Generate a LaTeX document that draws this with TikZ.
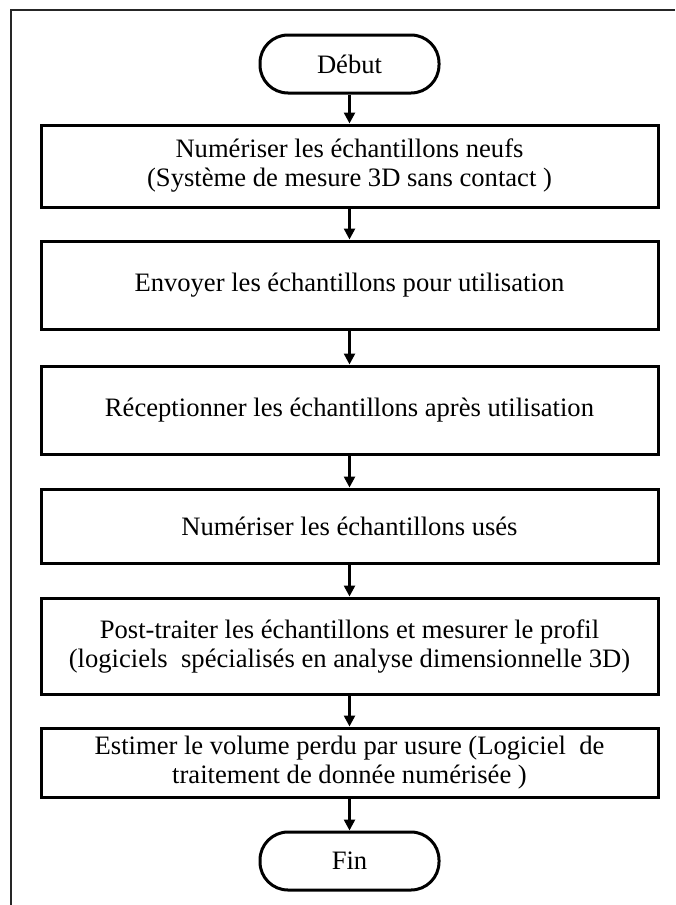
\documentclass[tikz,border=0pt]{standalone}
\usepackage{fontspec}
\setmainfont{Liberation Serif}
\usetikzlibrary{arrows.meta}
\begin{document}
\begin{tikzpicture}[x=1pt,y=-1pt,
  every node/.style={font=\fontsize{26.6}{29}\selectfont},
  procbox/.style={draw, line width=3pt, minimum width=617pt, inner sep=0pt, align=center},
  termbox/.style={draw, line width=3pt, minimum width=179pt, minimum height=58pt, rounded corners=28pt, inner sep=0pt},
  arr/.style={line width=2.5pt, -{Triangle[length=11pt,width=11pt]}},
  framebox/.style={line width=2pt, draw=black!85}]
\useasboundingbox (0,0) rectangle (675,905);
\draw[framebox] (675,10) -- (11,10) -- (11,905);
\node[termbox] (debut) at (349.5,64) {Début};
\node[procbox, minimum height=82pt] (b1) at (349.5,166) {Numériser les échantillons neufs\\(Système de mesure 3D sans contact )};
\node[procbox, minimum height=88pt] (b2) at (349.5,285) {Envoyer les échantillons pour utilisation};
\node[procbox, minimum height=88pt] (b3) at (349.5,410) {Réceptionner les échantillons après utilisation};
\node[procbox, minimum height=74pt] (b4) at (349.5,526) {Numériser les échantillons usés};
\node[procbox, minimum height=96pt] (b5) at (349.5,646) {Post-traiter les échantillons et mesurer le profil\\(logiciels\ \ spécialisés en analyse dimensionnelle 3D)};
\node[procbox, minimum height=69pt] (b6) at (349.5,762.5) {Estimer le volume perdu par usure (Logiciel\ \ de\\traitement de donnée numérisée )};
\node[termbox] (fin) at (349.5,861) {Fin};
\draw[arr] (debut) -- (b1);
\draw[arr] (b1) -- (b2);
\draw[arr] (b2) -- (b3);
\draw[arr] (b3) -- (b4);
\draw[arr] (b4) -- (b5);
\draw[arr] (b5) -- (b6);
\draw[arr] (b6) -- (fin);
\end{tikzpicture}
\end{document}
